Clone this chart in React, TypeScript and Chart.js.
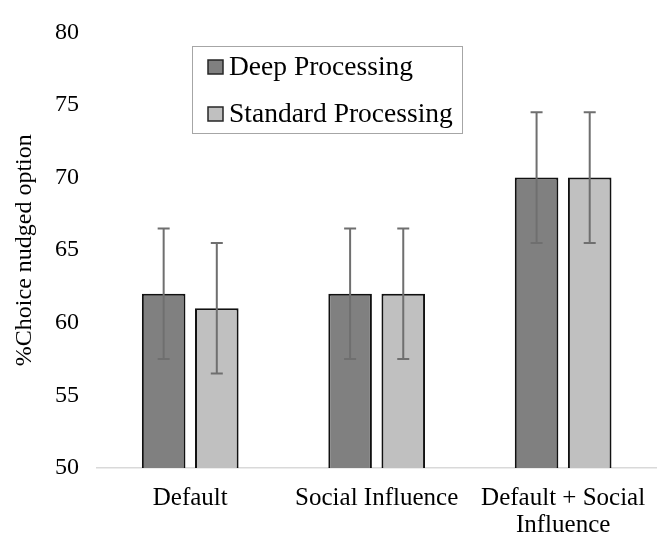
import React, { useEffect, useRef } from "react";
import { Chart, registerables } from "chart.js";

Chart.register(...registerables);

const categories: (string | string[])[] = ["Default", "Social Influence", ["Default + Social", "Influence"]];
const seriesNames = ["Deep Processing", "Standard Processing"];
const deepValues = [62, 62, 70];
const standardValues = [61, 62, 70];
const deepErrors = [4.5, 4.5, 4.5];
const standardErrors = [4.5, 4.5, 4.5];
const yTicks = [50, 55, 60, 65, 70, 75, 80];

const FONT = "'Liberation Serif', 'Times New Roman', serif";

export default function App() {
  const ref = useRef<HTMLCanvasElement | null>(null);
  useEffect(() => {
    document.body.style.margin = "0";
    const canvas = ref.current;
    if (!canvas) return;

    const errorBars = {
      id: "errorBars",
      afterDatasetsDraw(chart: any) {
        const ctx = chart.ctx;
        const y = chart.scales.y;
        const errs = [deepErrors, standardErrors];
        ctx.save();
        ctx.strokeStyle = "#6f6f6f";
        ctx.lineWidth = 2;
        chart.data.datasets.forEach((ds: any, di: number) => {
          const meta = chart.getDatasetMeta(di);
          meta.data.forEach((bar: any, i: number) => {
            const v = ds.data[i];
            const e = errs[di][i];
            const x = bar.x;
            const yt = y.getPixelForValue(v + e);
            const yb = y.getPixelForValue(v - e);
            ctx.beginPath();
            ctx.moveTo(x, yt);
            ctx.lineTo(x, yb);
            ctx.moveTo(x - 6, yt);
            ctx.lineTo(x + 6, yt);
            ctx.moveTo(x - 6, yb);
            ctx.lineTo(x + 6, yb);
            ctx.stroke();
          });
        });
        ctx.restore();
      },
    };

    const legendBox = {
      id: "legendBox",
      afterDraw(chart: any) {
        const ctx = chart.ctx;
        ctx.save();
        ctx.strokeStyle = "#a6a6a6";
        ctx.lineWidth = 1;
        ctx.strokeRect(192.5, 46.5, 270, 87);
        const colors = ["#808080", "#c0c0c0"];
        const rowsY = [60, 107];
        ctx.font = `27.5px ${FONT}`;
        ctx.textBaseline = "alphabetic";
        ctx.textAlign = "left";
        seriesNames.forEach((name, i) => {
          ctx.fillStyle = colors[i];
          ctx.fillRect(208, rowsY[i], 15, 14);
          ctx.strokeStyle = "#262626";
          ctx.lineWidth = 1.5;
          ctx.strokeRect(208, rowsY[i], 15, 14);
          ctx.fillStyle = "#000";
          ctx.fillText(name, 229, rowsY[i] + 15);
        });
        ctx.restore();
      },
    };

    const chart = new Chart(canvas, {
      type: "bar",
      data: {
        labels: categories,
        datasets: [
          {
            label: seriesNames[0],
            data: deepValues,
            backgroundColor: "#808080",
            borderColor: "#111111",
            borderWidth: 2,
            categoryPercentage: 0.57,
            barPercentage: 0.82,
          },
          {
            label: seriesNames[1],
            data: standardValues,
            backgroundColor: "#c0c0c0",
            borderColor: "#111111",
            borderWidth: 2,
            categoryPercentage: 0.57,
            barPercentage: 0.82,
          },
        ],
      },
      options: {
        animation: false,
        responsive: false,
        layout: { padding: { top: 23, right: 5, left: 0, bottom: 0 } },
        plugins: { legend: { display: false }, tooltip: { enabled: false } },
        scales: {
          x: {
            grid: { display: false, drawTicks: false },
            border: { display: true, color: "#d9d9d9", width: 1.5 },
            ticks: {
              color: "#000",
              font: { family: FONT, size: 25, lineHeight: 1.08 },
              padding: 17,
              maxRotation: 0,
              autoSkip: false,
            },
            afterFit(scale: any) {
              scale.height = 70;
            },
          },
          y: {
            min: 50,
            max: 80,
            afterBuildTicks(scale: any) {
              scale.ticks = yTicks.map((v) => ({ value: v }));
            },
            grid: { display: false, drawTicks: false },
            border: { display: false },
            ticks: {
              color: "#000",
              font: { family: FONT, size: 24 },
              padding: 18,
            },
            title: {
              display: true,
              text: "%Choice nudged option",
              color: "#000",
              font: { family: FONT, size: 24 },
              padding: { top: 10, bottom: 0 },
            },
            afterFit(scale: any) {
              scale.width = 97;
            },
          },
        },
      },
      plugins: [errorBars, legendBox],
    });
    return () => chart.destroy();
  }, []);
  return (
    <div style={{ width: 663, height: 538 }}>
      <canvas ref={ref} width={663} height={538} style={{ display: "block" }} />
    </div>
  );
}
